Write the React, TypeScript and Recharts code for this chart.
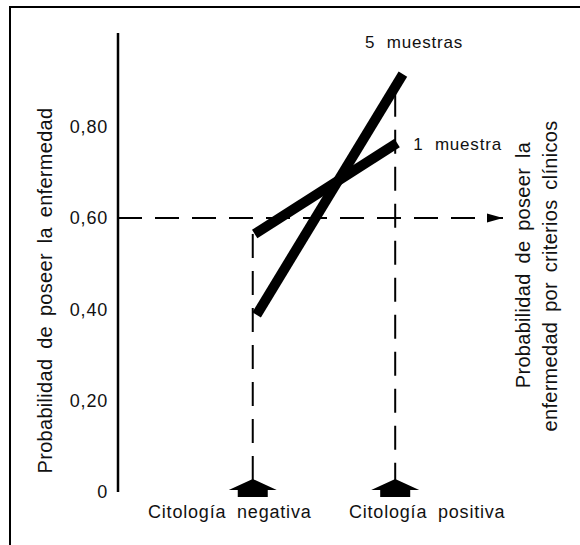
import React from 'react';
import { ComposedChart, Line, XAxis, YAxis, ReferenceLine, ReferenceDot, Label } from 'recharts';

const categories = ['Citología negativa', 'Citología positiva'];
const categoryX = [35, 72];
const yTicks = [0, 0.2, 0.4, 0.6, 0.8];
const yTickLabels = ['0', '0,20', '0,40', '0,60', '0,80'];
const seriesNames = ['5 muestras', '1 muestra'];
const fiveX = [36, 74];
const fiveY = [0.388, 0.915];
const oneX = [35.5, 72.5];
const oneY = [0.565, 0.764];
const clinicalThreshold = 0.6;
const dropTops = [0.565, 0.874];
const leftAxisTitle = 'Probabilidad de poseer la enfermedad';
const rightAxisTitle = ['Probabilidad de poseer la', 'enfermedad por criterios clínicos'];

const fiveData = fiveX.map((x, i) => ({ x, y: fiveY[i] }));
const oneData = oneX.map((x, i) => ({ x, y: oneY[i] }));

const FONT = '"Liberation Sans", Arial, Helvetica, sans-serif';

const XTick = (props: any) => {
  const { x, y, payload } = props;
  const idx = categoryX.indexOf(payload.value);
  const label = categories[idx];
  const offset = idx === 0 ? -23 : 32;
  const pts = [
    [x, y - 13],
    [x + 24, y - 2],
    [x + 15, y - 2],
    [x + 15, y + 5],
    [x - 15, y + 5],
    [x - 15, y - 2],
    [x - 24, y - 2],
  ]
    .map((p) => p.join(','))
    .join(' ');
  return (
    <g>
      <polygon points={pts} fill="#000" />
      <text
        x={x + offset}
        y={y + 26}
        textAnchor="middle"
        fill="#111"
        style={{ fontFamily: FONT, fontSize: 18, letterSpacing: 0.8, wordSpacing: 5 }}
      >
        {label}
      </text>
    </g>
  );
};

const YTick = (props: any) => {
  const { x, y, payload } = props;
  const idx = yTicks.indexOf(payload.value);
  return (
    <text
      x={x}
      y={y}
      dy="0.355em"
      textAnchor="end"
      fill="#111"
      style={{ fontFamily: FONT, fontSize: 18, letterSpacing: 0.8 }}
    >
      {yTickLabels[idx]}
    </text>
  );
};

const LeftTitle = (props: any) => {
  const vb = props.viewBox || { x: 0, y: 33, width: 118, height: 459 };
  const cx = vb.x + 52;
  const cy = vb.y + vb.height / 2 + 28;
  return (
    <text
      x={cx}
      y={cy}
      textAnchor="middle"
      transform={`rotate(-90, ${cx}, ${cy})`}
      fill="#111"
      style={{ fontFamily: FONT, fontSize: 20, letterSpacing: 0.3, wordSpacing: 4 }}
    >
      {leftAxisTitle}
    </text>
  );
};

const RightTitle = (props: any) => {
  const vb = props.viewBox || { x: 503, y: 33, width: 77, height: 459 };
  const lines = [
    { cx: vb.x + 27, cy: vb.y + vb.height / 2 + 2.5 },
    { cx: vb.x + 54, cy: vb.y + vb.height / 2 + 13.5 },
  ];
  return (
    <g>
      {rightAxisTitle.map((t, i) => (
        <text
          key={i}
          x={lines[i].cx}
          y={lines[i].cy}
          textAnchor="middle"
          transform={`rotate(-90, ${lines[i].cx}, ${lines[i].cy})`}
          fill="#111"
          style={{ fontFamily: FONT, fontSize: 20, letterSpacing: 0.3, wordSpacing: 4 }}
        >
          {t}
        </text>
      ))}
    </g>
  );
};

const SeriesLabel = (text: string, dx: number, dy: number) => (p: any) => (
  <text
    x={p.cx + dx}
    y={p.cy + dy}
    textAnchor="start"
    fill="#111"
    style={{ fontFamily: FONT, fontSize: 17, letterSpacing: 0.8, wordSpacing: 6 }}
  >
    {text}
  </text>
);

const ArrowHead = (p: any) => (
  <polygon
    points={`${p.cx},${p.cy} ${p.cx - 16},${p.cy - 4.5} ${p.cx - 16},${p.cy + 4.5}`}
    fill="#000"
  />
);

export default function App() {
  return (
    <div style={{ position: 'absolute', left: 0, top: 0, width: 580, height: 545, background: '#fff' }}>
      <div
        style={{
          position: 'absolute',
          left: 9,
          top: 6,
          width: 571,
          height: 539,
          borderTop: '2px solid #000',
          borderLeft: '2px solid #000',
          boxSizing: 'border-box',
        }}
      />
      <div style={{ position: 'absolute', left: 0, top: 0 }}>
        <ComposedChart width={580} height={545} margin={{ top: 33, right: 0, bottom: 0, left: 0 }}>
          <XAxis
            type="number"
            dataKey="x"
            domain={[0, 100]}
            ticks={categoryX}
            interval={0}
            axisLine={false}
            tickLine={false}
            tickSize={0}
            tickMargin={0}
            height={53}
            tick={<XTick />}
          />
          <YAxis
            yAxisId="left"
            type="number"
            dataKey="y"
            domain={[0, 1.005]}
            ticks={yTicks}
            width={118}
            axisLine={{ stroke: '#000', strokeWidth: 2.5 }}
            tickLine={false}
            tickSize={8}
            tickMargin={2}
            tick={<YTick />}
          >
            <Label content={<LeftTitle />} />
          </YAxis>
          <YAxis
            yAxisId="right"
            orientation="right"
            type="number"
            domain={[0, 1.005]}
            width={77}
            axisLine={false}
            tickLine={false}
            tick={false}
          >
            <Label content={<RightTitle />} />
          </YAxis>
          <ReferenceLine
            yAxisId="left"
            y={clinicalThreshold}
            stroke="#000"
            strokeWidth={2}
            strokeDasharray="24 13"
          />
          <ReferenceDot yAxisId="left" x={100} y={clinicalThreshold} r={0} shape={ArrowHead} />
          {categoryX.map((cx, i) => (
            <ReferenceLine
              key={i}
              yAxisId="left"
              segment={[
                { x: cx, y: dropTops[i] },
                { x: cx, y: 0 },
              ]}
              stroke="#000"
              strokeWidth={2}
              strokeDasharray="24 13"
            />
          ))}
          <Line
            yAxisId="left"
            data={oneData}
            dataKey="y"
            name={seriesNames[1]}
            stroke="#000"
            strokeWidth={10}
            dot={false}
            activeDot={false}
            isAnimationActive={false}
          />
          <Line
            yAxisId="left"
            data={fiveData}
            dataKey="y"
            name={seriesNames[0]}
            stroke="#000"
            strokeWidth={10}
            dot={false}
            activeDot={false}
            isAnimationActive={false}
          />
          <ReferenceDot
            yAxisId="left"
            x={fiveX[1]}
            y={fiveY[1]}
            r={0}
            shape={SeriesLabel(seriesNames[0], -38, -26)}
          />
          <ReferenceDot
            yAxisId="left"
            x={oneX[1]}
            y={oneY[1]}
            r={0}
            shape={SeriesLabel(seriesNames[1], 16, 7)}
          />
        </ComposedChart>
      </div>
    </div>
  );
}
